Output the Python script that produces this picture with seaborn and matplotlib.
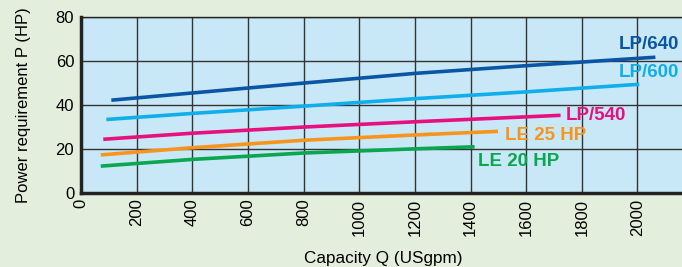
import numpy as np
import pandas as pd
import seaborn as sns
import matplotlib.pyplot as plt

plt.rcParams['font.family'] = ['Liberation Sans', 'DejaVu Sans']

# Power requirement curves
q_lp640 = [115, 400, 800, 1200, 1600, 2058]
p_lp640 = [42.3, 45.5, 50.0, 54.4, 57.9, 61.7]

q_lp600 = [97, 400, 800, 1200, 1600, 2000]
p_lp600 = [33.5, 36.2, 39.5, 42.9, 46.0, 49.4]

q_lp540 = [86, 400, 800, 1200, 1717]
p_lp540 = [24.5, 27.2, 30.0, 32.4, 35.3]

q_le25 = [77, 400, 800, 1200, 1492]
p_le25 = [17.4, 20.6, 24.0, 26.4, 28.0]

q_le20 = [77, 400, 800, 1200, 1408]
p_le20 = [12.3, 15.3, 18.2, 20.1, 21.0]

series_names = ["LP/640", "LP/600", "LP/540", "LE 25 HP", "LE 20 HP"]
colors = ["#0a56a4", "#10aeeb", "#e6107f", "#f7941d", "#0aa650"]
label_pos = [(1932, 67.6), (1932, 55.0), (1742, 35.3), (1524, 26.0), (1426, 14.5)]

frames = []
for name, q, p in zip(series_names,
                      [q_lp640, q_lp600, q_lp540, q_le25, q_le20],
                      [p_lp640, p_lp600, p_lp540, p_le25, p_le20]):
    frames.append(pd.DataFrame({"Q": q, "P": p, "model": name}))
df = pd.concat(frames, ignore_index=True)

fig = plt.figure(figsize=(6.82, 2.67), dpi=100, facecolor="#e4eedd")
ax = fig.add_axes([0.119, 0.277, 0.885, 0.659])
ax.set_facecolor("#c8e8f7")

sns.lineplot(data=df, x="Q", y="P", hue="model", palette=colors,
             hue_order=series_names, linewidth=2.6, legend=False, ax=ax,
             sort=True)

for name, c, (x, y) in zip(series_names, colors, label_pos):
    ax.text(x, y, name, color=c, fontsize=13.5, fontweight="bold",
            ha="left", va="center", clip_on=False)

ax.set_xlim(0, 2170)
ax.set_ylim(0, 80)
ax.set_xticks(range(0, 2001, 200))
ax.set_yticks(range(0, 81, 20))
ax.tick_params(axis="x", labelrotation=90, labelsize=12, length=0, pad=4)
ax.tick_params(axis="y", labelsize=12, length=0, pad=5)
ax.grid(True, color="#333333", linewidth=1.0)
ax.set_axisbelow(True)

ax.spines["left"].set_linewidth(2.5)
ax.spines["bottom"].set_linewidth(2.5)
ax.spines["top"].set_linewidth(1.0)
ax.spines["right"].set_visible(False)
for s in ax.spines.values():
    s.set_color("#222222")

ax.set_xlabel("Capacity Q (USgpm)", fontsize=12.3, labelpad=11)
ax.set_ylabel("Power requirement P (HP)", fontsize=12, labelpad=18)

fig.savefig("out.png", dpi=100, facecolor=fig.get_facecolor())
